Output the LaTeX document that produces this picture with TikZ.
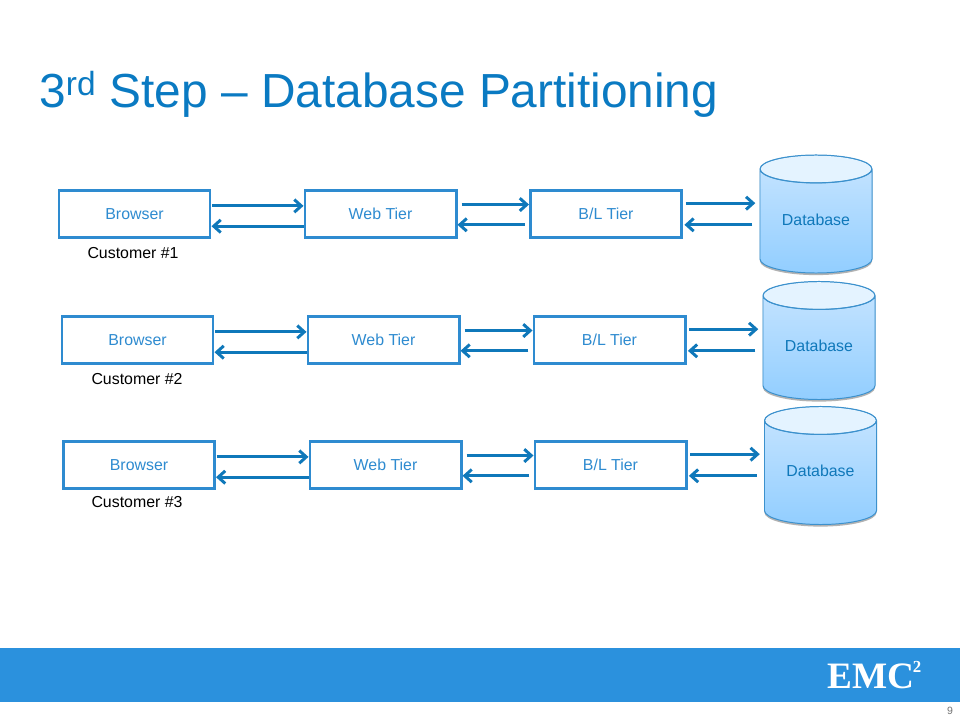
\documentclass[tikz,border=0pt]{standalone}
\usepackage{fontspec}
\setmainfont{Liberation Sans}
\newfontfamily\logofont{Liberation Serif}
\usetikzlibrary{arrows.meta,shapes.geometric,shadows}
\definecolor{titleblue}{RGB}{10, 122, 194}
\definecolor{boxblue}{RGB}{46, 139, 208}
\definecolor{arrowblue}{RGB}{15, 120, 186}
\definecolor{bandblue}{RGB}{43, 145, 221}
\definecolor{dbtop}{RGB}{228, 243, 255}
\definecolor{dbhigh}{RGB}{200, 229, 255}
\definecolor{dblow}{RGB}{146, 206, 255}
\definecolor{dbline}{RGB}{60, 145, 205}
\newcommand{\dbup}[1]{\raisebox{2.1pt}[0.7em][0.2em]{#1}}
\begin{document}
\begin{tikzpicture}[x=0.025cm,y=-0.025cm]
                \useasboundingbox (0,0) rectangle (960,720);
                \fill [white] (0,0) rectangle (960,720);
                \fill [bandblue] (0,648) rectangle (960,702);

                \node[anchor=base west, inner sep=0pt, text=titleblue, font=\fontsize{34}{40}\selectfont] (title) at (39,108) {3\textsuperscript{rd} Step – Database Partitioning};
                \node[anchor=base west, text=white, font=\logofont\bfseries\fontsize{26.5}{28}\selectfont, inner sep=0pt] (logo) at (827,688) {EMC\kern-1pt\raisebox{0.42em}{\fontsize{12}{12}\selectfont 2}};
                \node[text=black!55, font=\fontsize{7.5}{9}\selectfont, inner sep=0pt] (page) at (950,711) {9};

                \tikzstyle{box}=[rectangle, draw=boxblue, line width=2.1pt, minimum width=3.775cm, minimum height=1.175cm, text=boxblue, font=\fontsize{11.3}{13}\selectfont, fill=white]
                \tikzstyle{db}=[cylinder, anchor=shape center, shape border rotate=90, aspect=0.36, draw=dbline, line width=0.7pt, minimum width=2.8cm, minimum height=2.95cm, text=arrowblue, font=\fontsize{11.3}{13}\selectfont, top color=dbhigh, bottom color=dblow, drop shadow={shadow xshift=0pt, shadow yshift=-1.5pt, opacity=0.5, fill=black!60},
                    path picture={\draw[draw=dbline, line width=0.7pt, fill=dbtop] (path picture bounding box.north) ++(0,-0.35cm) ellipse (1.4cm and 0.35cm);}]
                \tikzstyle{cust}=[text=black, font=\fontsize{11.3}{13}\selectfont, inner sep=0pt]

                \node[box] (B1) at (134.5,214) {Browser};
                \node[box] (W1) at (380.5,214) {Web Tier};
                \node[box] (L1) at (606,214) {B/L Tier};
                \node[db] (D1) at (816,214) {\dbup{Database}};
                \node[cust] (C1) at (133,253) {Customer \#1};

                \node[box] (B2) at (137.5,340) {Browser};
                \node[box] (W2) at (383.5,340) {Web Tier};
                \node[box] (L2) at (609.5,340) {B/L Tier};
                \node[db] (D2) at (819,340.5) {\dbup{Database}};
                \node[cust] (C2) at (137,379) {Customer \#2};

                \node[box] (B3) at (139,465) {Browser};
                \node[box] (W3) at (385.5,465) {Web Tier};
                \node[box] (L3) at (610.5,465) {B/L Tier};
                \node[db] (D3) at (820.5,465.5) {\dbup{Database}};
                \node[cust] (C3) at (137,502) {Customer \#3};

                \tikzstyle{bind}=[-{Straight Barb[length=5pt,width=9pt]},line width=2.1pt,draw=arrowblue]

                \draw[bind, shorten <=0.5pt] (B1.6) to (B1.6 -| W1.west);
                \draw[bind] (W1.189) to (B1.351);
                \draw[bind, shorten <=3pt] (W1.7) to (L1.173);
                \draw[bind, shorten <=3pt] (L1.188) to (W1.352);
                \draw[bind, shorten <=2pt, shorten >=3pt] (L1.8) to (L1.8 -| D1.west);
                \draw[bind, shorten <=5pt, shorten >=1pt] (L1.352 -| D1.west) to (L1.352);

                \draw[bind, shorten <=0.5pt] (B2.6) to (B2.6 -| W2.west);
                \draw[bind] (W2.189) to (B2.351);
                \draw[bind, shorten <=3pt] (W2.7) to (L2.173);
                \draw[bind, shorten <=3pt] (L2.188) to (W2.352);
                \draw[bind, shorten <=2pt, shorten >=3pt] (L2.8) to (L2.8 -| D2.west);
                \draw[bind, shorten <=5pt, shorten >=1pt] (L2.352 -| D2.west) to (L2.352);

                \draw[bind, shorten <=0.5pt] (B3.6) to (B3.6 -| W3.west);
                \draw[bind] (W3.189) to (B3.351);
                \draw[bind, shorten <=3pt] (W3.7) to (L3.173);
                \draw[bind, shorten <=3pt] (L3.188) to (W3.352);
                \draw[bind, shorten <=2pt, shorten >=3pt] (L3.8) to (L3.8 -| D3.west);
                \draw[bind, shorten <=5pt, shorten >=1pt] (L3.352 -| D3.west) to (L3.352);
            \end{tikzpicture}
\end{document}
